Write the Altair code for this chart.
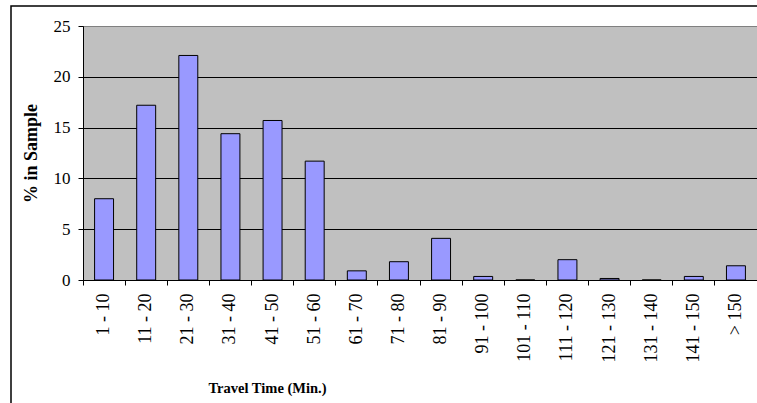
import altair as alt
import pandas as pd

categories = ["1 - 10", "11 - 20", "21 - 30", "31 - 40", "41 - 50", "51 - 60",
              "61 - 70", "71 - 80", "81 - 90", "91 - 100", "101 - 110",
              "111 - 120", "121 - 130", "131 - 140", "141 - 150", "> 150"]
percent = [8.0, 17.2, 22.1, 14.4, 15.7, 11.7, 0.9, 1.8, 4.1, 0.35, 0.0,
           2.0, 0.15, 0.0, 0.35, 1.4]
y_ticks = [0, 5, 10, 15, 20, 25]

df = pd.DataFrame({"range": categories, "pct": percent})

W, H = 674, 254
FONT = "Liberation Serif"

bars = alt.Chart(df).mark_bar(
    width=alt.RelativeBandSize(0.45), fill="#9999FF", stroke="black", strokeWidth=1
).encode(
    x=alt.X(
        "range:N", sort=categories,
        scale=alt.Scale(paddingInner=0, paddingOuter=0),
        axis=alt.Axis(
            title="Travel Time (Min.)", labelAngle=-90, bandPosition=0,
            labelFont=FONT, labelFontSize=18, labelColor="black",
            labelPadding=8, labelOverlap=False,
            tickSize=5, tickColor="black", domainColor="black",
            titleFont=FONT, titleFontSize=14.5, titleFontWeight="bold",
            titleColor="black", titleX=184, titleY=112,
            titleAlign="center", titleBaseline="alphabetic", grid=False,
        ),
    ),
    y=alt.Y(
        "pct:Q",
        scale=alt.Scale(domain=[0, 25], nice=False),
        axis=alt.Axis(
            values=y_ticks, title="% in Sample",
            labelFont=FONT, labelFontSize=17, labelColor="black",
            labelPadding=8, tickSize=5, tickColor="black", domainColor="black",
            grid=True,
            gridColor={"condition": {"test": "datum.value === 25", "value": "#808080"},
                       "value": "black"},
            gridOpacity=1,
            titleFont=FONT, titleFontSize=18, titleFontWeight="bold",
            titleColor="black", titleAngle=-90, titleX=-52, titleY=H / 2,
            titleAlign="center", titleBaseline="middle",
        ),
    ),
)

frame = alt.Chart(alt.Data(values=[{}])).mark_rect(
    fillOpacity=0, stroke="black", strokeWidth=1.5
).encode(
    x=alt.value(-72), x2=alt.value(W + 40), y=alt.value(-20), y2=alt.value(H + 200)
)

chart = alt.layer(frame, bars).properties(
    width=W, height=H,
    padding={"left": 83, "top": 26, "right": 0, "bottom": 123},
    autosize=alt.AutoSizeParams(type="none"),
    background="white",
).configure_view(fill="#C0C0C0", stroke="#808080")

chart.save("out.html", embed_options={"renderer": "svg", "actions": False})
